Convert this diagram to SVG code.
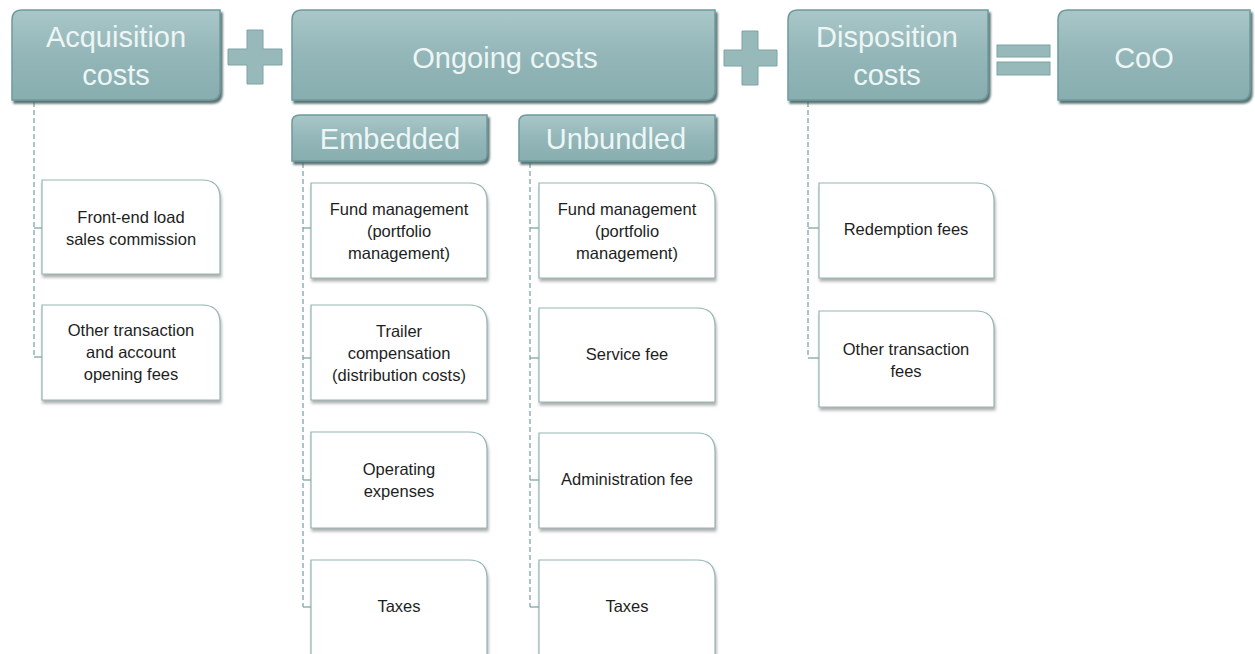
<svg xmlns="http://www.w3.org/2000/svg" width="1255" height="654" viewBox="0 0 1255 654">
<defs>
<linearGradient id="hg" x1="0" y1="0" x2="0" y2="1">
<stop offset="0" stop-color="#a9c7c8"/>
<stop offset="0.5" stop-color="#93b6b8"/>
<stop offset="1" stop-color="#88aeb0"/>
</linearGradient>
<filter id="ds" x="-10%" y="-10%" width="130%" height="130%">
<feDropShadow dx="1" dy="3" stdDeviation="1.5" flood-color="#7a7a7a" flood-opacity="0.6"/>
</filter>
<filter id="hs" x="-10%" y="-10%" width="130%" height="130%">
<feDropShadow dx="2" dy="3" stdDeviation="1" flood-color="#3e5a5c" flood-opacity="0.85"/>
</filter>
</defs>
<style>
.hdr{fill:url(#hg);stroke:#6f9a9c;stroke-width:1.5;filter:url(#hs)}
.ht{font-family:"Liberation Sans",Arial,sans-serif;font-size:29px;fill:#eef5f5;text-anchor:middle}
.op{fill:#97b9ba;stroke:#7ea3a5;stroke-width:1}
.box{fill:#ffffff;stroke:#93b5b3;stroke-width:1.2;filter:url(#ds)}
.bt{font-family:"Liberation Sans",Arial,sans-serif;font-size:16.5px;fill:#1e1e1e;text-anchor:middle}
.dash{stroke:#7fa6a9;stroke-width:1.3;stroke-dasharray:5,3;fill:none}
.tick{stroke:#7fa6a9;stroke-width:1.3;fill:none}
</style>
<rect width="1255" height="654" fill="#ffffff"/>

<g id="connectors">
<line class="dash" x1="34" y1="102" x2="34" y2="357"/>
<line class="tick" x1="34" y1="228" x2="42" y2="228"/>
<line class="tick" x1="34" y1="357" x2="42" y2="357"/>
<line class="dash" x1="303" y1="163" x2="303" y2="607"/>
<line class="tick" x1="303" y1="228" x2="311" y2="228"/>
<line class="tick" x1="303" y1="358" x2="311" y2="358"/>
<line class="tick" x1="303" y1="480" x2="311" y2="480"/>
<line class="tick" x1="303" y1="607" x2="311" y2="607"/>
<line class="dash" x1="530" y1="163" x2="530" y2="607"/>
<line class="tick" x1="530" y1="228" x2="539" y2="228"/>
<line class="tick" x1="530" y1="358" x2="539" y2="358"/>
<line class="tick" x1="530" y1="480" x2="539" y2="480"/>
<line class="tick" x1="530" y1="607" x2="539" y2="607"/>
<line class="dash" x1="808" y1="102" x2="808" y2="358"/>
<line class="tick" x1="808" y1="228" x2="819" y2="228"/>
<line class="tick" x1="808" y1="358" x2="819" y2="358"/>
</g>

<g id="operators">
<path class="op" d="M247,30 H263 V49 H282 V65 H263 V84 H247 V65 H228 V49 H247 Z"/>
<path class="op" d="M742,31 H758 V50 H777 V66 H758 V85 H742 V66 H724 V50 H742 Z"/>
<rect class="op" x="997" y="45" width="53" height="12"/>
<rect class="op" x="997" y="62" width="53" height="13"/>
</g>

<g id="acquisition">
<path class="hdr" d="M22,10 H220 V90 Q220,100 210,100 H12 V20 Q12,10 22,10 Z"/>
<text class="ht" x="116" y="47">Acquisition</text>
<text class="ht" x="116" y="85">costs</text>
</g>
<g id="ongoing">
<path class="hdr" d="M302,10 H715 V90 Q715,100 705,100 H292 V20 Q292,10 302,10 Z"/>
<text class="ht" x="505" y="68">Ongoing costs</text>
</g>
<g id="disposition">
<path class="hdr" d="M798,10 H988 V90 Q988,100 978,100 H788 V20 Q788,10 798,10 Z"/>
<text class="ht" x="887" y="47">Disposition</text>
<text class="ht" x="887" y="85">costs</text>
</g>
<g id="coo">
<path class="hdr" d="M1068,10 H1250 V90 Q1250,100 1240,100 H1058 V20 Q1058,10 1068,10 Z"/>
<text class="ht" x="1144" y="68">CoO</text>
</g>
<g id="embedded">
<path class="hdr" d="M300,115 H487 V154 Q487,161 480,161 H292 V122 Q292,115 300,115 Z"/>
<text class="ht" x="390" y="149">Embedded</text>
</g>
<g id="unbundled">
<path class="hdr" d="M527,115 H715 V154 Q715,161 708,161 H519 V122 Q519,115 527,115 Z"/>
<text class="ht" x="616" y="149">Unbundled</text>
</g>

<g id="front-end-load">
<path class="box" d="M42,180 H202 Q220,180 220,198 V274 H42 Z"/>
<text class="bt" x="131" y="223">Front-end load</text>
<text class="bt" x="131" y="245">sales commission</text>
</g>
<g id="other-transaction-account">
<path class="box" d="M42,305 H202 Q220,305 220,323 V400 H42 Z"/>
<text class="bt" x="131" y="336">Other transaction</text>
<text class="bt" x="131" y="358">and account</text>
<text class="bt" x="131" y="380">opening fees</text>
</g>

<g id="emb-fund-management">
<path class="box" d="M311,183 H469 Q487,183 487,201 V278 H311 Z"/>
<text class="bt" x="399" y="215">Fund management</text>
<text class="bt" x="399" y="237">(portfolio</text>
<text class="bt" x="399" y="259">management)</text>
</g>
<g id="emb-trailer">
<path class="box" d="M311,305 H469 Q487,305 487,323 V400 H311 Z"/>
<text class="bt" x="399" y="337">Trailer</text>
<text class="bt" x="399" y="359">compensation</text>
<text class="bt" x="399" y="381">(distribution costs)</text>
</g>
<g id="emb-operating">
<path class="box" d="M311,432 H469 Q487,432 487,450 V528 H311 Z"/>
<text class="bt" x="399" y="475">Operating</text>
<text class="bt" x="399" y="497">expenses</text>
</g>
<g id="emb-taxes">
<path class="box" d="M311,560 H469 Q487,560 487,578 V664 H311 Z"/>
<text class="bt" x="399" y="612">Taxes</text>
</g>

<g id="unb-fund-management">
<path class="box" d="M539,183 H697 Q715,183 715,201 V278 H539 Z"/>
<text class="bt" x="627" y="215">Fund management</text>
<text class="bt" x="627" y="237">(portfolio</text>
<text class="bt" x="627" y="259">management)</text>
</g>
<g id="unb-service">
<path class="box" d="M539,308 H697 Q715,308 715,326 V402 H539 Z"/>
<text class="bt" x="627" y="360">Service fee</text>
</g>
<g id="unb-administration">
<path class="box" d="M539,433 H697 Q715,433 715,451 V528 H539 Z"/>
<text class="bt" x="627" y="485">Administration fee</text>
</g>
<g id="unb-taxes">
<path class="box" d="M539,560 H697 Q715,560 715,578 V664 H539 Z"/>
<text class="bt" x="627" y="612">Taxes</text>
</g>

<g id="redemption">
<path class="box" d="M819,183 H976 Q994,183 994,201 V278 H819 Z"/>
<text class="bt" x="906" y="235">Redemption fees</text>
</g>
<g id="other-transaction-fees">
<path class="box" d="M819,311 H976 Q994,311 994,329 V407 H819 Z"/>
<text class="bt" x="906" y="355">Other transaction</text>
<text class="bt" x="906" y="377">fees</text>
</g>
</svg>
